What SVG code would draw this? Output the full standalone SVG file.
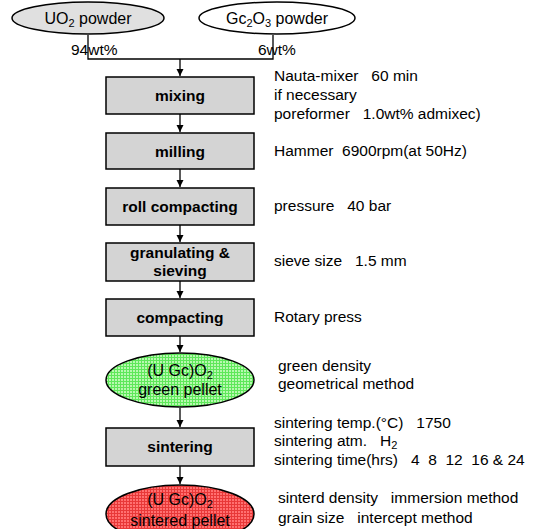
<svg xmlns="http://www.w3.org/2000/svg" width="535" height="529" viewBox="0 0 535 529">
<defs>
<pattern id="pg" width="3" height="3" patternUnits="userSpaceOnUse">
<rect width="3" height="3" fill="#b8f8b0"/>
<path d="M0 0.5H3M0.5 0V3" stroke="#5ee85a" stroke-width="1"/>
</pattern>
<pattern id="pr" width="3" height="3" patternUnits="userSpaceOnUse">
<rect width="3" height="3" fill="#ff7070"/>
<path d="M0 0.5H3M0.5 0V3" stroke="#e83838" stroke-width="1"/>
</pattern>
<marker id="ah" markerWidth="8" markerHeight="8" refX="7" refY="4" orient="auto" markerUnits="userSpaceOnUse">
<path d="M0 0.5L7 4L0 7.5Z" fill="#000"/>
</marker>
<style>
text{white-space:pre}
.box{fill:#d4d4d4;stroke:#000;stroke-width:1.5}
.el{stroke:#000;stroke-width:1.5}
.bl{font-family:"Liberation Sans",Arial,sans-serif;font-size:15.5px;font-weight:bold;text-anchor:middle;fill:#000}
.tx{font-family:"Liberation Sans",Arial,sans-serif;font-size:15.5px;fill:#000}
.ct{font-family:"Liberation Sans",Arial,sans-serif;font-size:16px;text-anchor:middle;fill:#000}
.ln{stroke:#000;stroke-width:1.3;fill:none}
</style>
</defs>
<rect width="535" height="529" fill="#fff"/>
<g id="connectors">
<path class="ln" d="M88 35V59H273V35"/>
<path class="ln" d="M180 59V76" marker-end="url(#ah)"/>
<path class="ln" d="M180 114V132" marker-end="url(#ah)"/>
<path class="ln" d="M180 169V187" marker-end="url(#ah)"/>
<path class="ln" d="M180 225V242" marker-end="url(#ah)"/>
<path class="ln" d="M180 281V298" marker-end="url(#ah)"/>
<path class="ln" d="M180 336V352" marker-end="url(#ah)"/>
<path class="ln" d="M180 408V427" marker-end="url(#ah)"/>
<path class="ln" d="M180 466V484" marker-end="url(#ah)"/>
<text class="tx" x="71" y="55">94wt%</text>
<text class="tx" x="258" y="55">6wt%</text>
</g>
<g id="uo2">
<ellipse class="el" cx="88" cy="18" rx="76" ry="16" fill="#e0e0e0"/>
<text class="ct" x="88" y="24">UO<tspan font-size="11" dy="3">2</tspan><tspan dy="-3"> powder</tspan></text>
</g>
<g id="gd2o3">
<ellipse class="el" cx="277" cy="18" rx="78" ry="16" fill="#fff"/>
<text class="ct" x="277" y="24">Gc<tspan font-size="11" dy="3">2</tspan><tspan dy="-3">O</tspan><tspan font-size="11" dy="3">3</tspan><tspan dy="-3"> powder</tspan></text>
</g>
<g id="mixing">
<rect class="box" x="106" y="77" width="148" height="37"/>
<text class="bl" x="180" y="101">mixing</text>
<text class="tx" x="274" y="81">Nauta-mixer   60 min</text>
<text class="tx" x="274" y="100">if necessary</text>
<text class="tx" x="274" y="119">poreformer   1.0wt% admixec)</text>
</g>
<g id="milling">
<rect class="box" x="106" y="133" width="148" height="36"/>
<text class="bl" x="180" y="157">milling</text>
<text class="tx" x="274" y="156">Hammer  6900rpm(at 50Hz)</text>
</g>
<g id="roll">
<rect class="box" x="106" y="188" width="148" height="37"/>
<text class="bl" x="180" y="212">roll compacting</text>
<text class="tx" x="274" y="211">pressure   40 bar</text>
</g>
<g id="granulating">
<rect class="box" x="106" y="243" width="148" height="38"/>
<text class="bl" x="180" y="258">granulating &amp;</text>
<text class="bl" x="180" y="276">sieving</text>
<text class="tx" x="274" y="266">sieve size   1.5 mm</text>
</g>
<g id="compacting">
<rect class="box" x="106" y="299" width="148" height="37"/>
<text class="bl" x="180" y="323">compacting</text>
<text class="tx" x="274" y="322">Rotary press</text>
</g>
<g id="green">
<ellipse class="el" cx="180" cy="380" rx="74" ry="27" fill="url(#pg)"/>
<text class="ct" x="180" y="376">(U Gc)O<tspan font-size="11" dy="3">2</tspan></text>
<text class="ct" x="180" y="395">green pellet</text>
<text class="tx" x="278" y="371">green density</text>
<text class="tx" x="278" y="389">geometrical method</text>
</g>
<g id="sintering">
<rect class="box" x="106" y="428" width="148" height="38"/>
<text class="bl" x="180" y="452">sintering</text>
<text class="tx" x="274" y="428">sintering temp.(°C)   1750</text>
<text class="tx" x="274" y="446">sintering atm.   H<tspan font-size="11" dy="3">2</tspan></text>
<text class="tx" x="274" y="465">sintering time(hrs)   4  8  12  16 &amp; 24</text>
</g>
<g id="sintered">
<ellipse class="el" cx="180" cy="514" rx="74" ry="29" fill="url(#pr)"/>
<text class="ct" x="180" y="505">(U Gc)O<tspan font-size="11" dy="3">2</tspan></text>
<text class="ct" x="180" y="526">sintered pellet</text>
<text class="tx" x="278" y="503">sinterd density   immersion method</text>
<text class="tx" x="278" y="523">grain size   intercept method</text>
</g>
</svg>
